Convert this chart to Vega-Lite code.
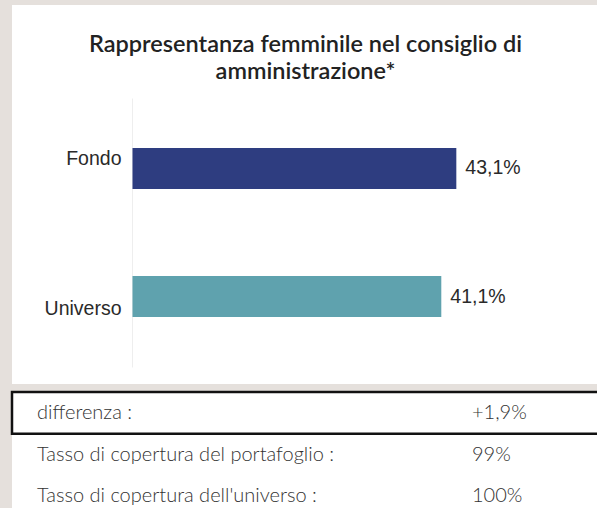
{
  "$schema": "https://vega.github.io/schema/vega-lite/v6.json",
  "background": "#e5e0dc",
  "padding": {"left": 10, "top": 5, "right": 0, "bottom": 0},
  "spacing": 6,
  "config": {"view": {"stroke": null}},
  "datasets": {
    "bars": [
      {"cat": "Fondo", "value": 43.1, "label": "43,1%"},
      {"cat": "Universo", "value": 41.1, "label": "41,1%"}
    ],
    "table": [
      {"row": 0, "col": "a", "text": "differenza :"},
      {"row": 0, "col": "b", "text": "+1,9%"},
      {"row": 1, "col": "a", "text": "Tasso di copertura del portafoglio :"},
      {"row": 1, "col": "b", "text": "99%"},
      {"row": 2, "col": "a", "text": "Tasso di copertura dell'universo :"},
      {"row": 2, "col": "b", "text": "100%"}
    ]
  },
  "vconcat": [
    {
      "width": 587,
      "height": 379,
      "view": {"fill": "white", "stroke": null},
      "title": {
        "text": ["Rappresentanza femminile nel consiglio di", "amministrazione*"],
        "font": "Lato",
        "fontSize": 23.5,
        "fontWeight": 600,
        "color": "#222222",
        "anchor": "middle",
        "frame": "group",
        "baseline": "top",
        "lineHeight": 27,
        "offset": -78
      },
      "data": {"name": "bars"},
      "encoding": {
        "y": {
          "field": "cat",
          "type": "nominal",
          "sort": ["Fondo", "Universo"],
          "scale": {"range": [93, 362], "paddingInner": 0.68, "paddingOuter": 0.39},
          "axis": {"offset": -120, "domain": true, "domainColor": "#eeeeee", "domainWidth": 1, "ticks": false, "labels": false, "title": null, "grid": false}
        }
      },
      "layer": [
        {
          "mark": {"type": "bar", "strokeWidth": 1},
          "encoding": {
            "x": {"field": "value", "type": "quantitative", "scale": {"domain": [0, 60], "range": [120.5, 571.3]}, "axis": null},
            "color": {"field": "cat", "type": "nominal", "scale": {"domain": ["Fondo", "Universo"], "range": ["#2e3d80", "#5fa2ae"]}, "legend": null}
          }
        },
        {
          "mark": {"type": "text", "align": "left", "baseline": "middle", "dx": 9, "font": "Liberation Sans", "fontSize": 19.5, "color": "#2a2a2a"},
          "encoding": {
            "x": {"field": "value", "type": "quantitative"},
            "text": {"field": "label"}
          }
        },
        {
          "transform": [{"filter": "datum.cat === 'Fondo'"}],
          "mark": {"type": "text", "align": "right", "baseline": "alphabetic", "dx": -11, "dy": -3, "font": "Liberation Sans", "fontSize": 19.5, "color": "#2a2a2a"},
          "encoding": {
            "x": {"datum": 0, "type": "quantitative"},
            "text": {"field": "cat"}
          }
        },
        {
          "transform": [{"filter": "datum.cat === 'Universo'"}],
          "mark": {"type": "text", "align": "right", "baseline": "alphabetic", "dx": -11, "dy": 18, "font": "Liberation Sans", "fontSize": 19.5, "color": "#2a2a2a"},
          "encoding": {
            "x": {"datum": 0, "type": "quantitative"},
            "text": {"field": "cat"}
          }
        }
      ]
    },
    {
      "width": 587,
      "height": 118,
      "view": {"fill": "white", "stroke": null},
      "data": {"name": "table"},
      "encoding": {
        "y": {"field": "row", "type": "ordinal", "scale": {"type": "band", "range": [0, 125], "paddingInner": 0, "paddingOuter": 0}, "axis": null}
      },
      "layer": [
        {
          "transform": [{"filter": "datum.row === 0 && datum.col === 'a'"}],
          "mark": {"type": "rect", "fill": null, "stroke": "#111111", "strokeWidth": 2.5}
        },
        {
          "mark": {"type": "text", "align": "left", "baseline": "middle", "font": "Lato", "fontWeight": 300, "fontSize": 20, "color": "#333333"},
          "encoding": {
            "x": {"field": "col", "type": "nominal", "scale": {"type": "point", "domain": ["a", "b"], "range": [25, 460], "padding": 0}, "axis": null},
            "text": {"field": "text"}
          }
        }
      ]
    }
  ]
}
